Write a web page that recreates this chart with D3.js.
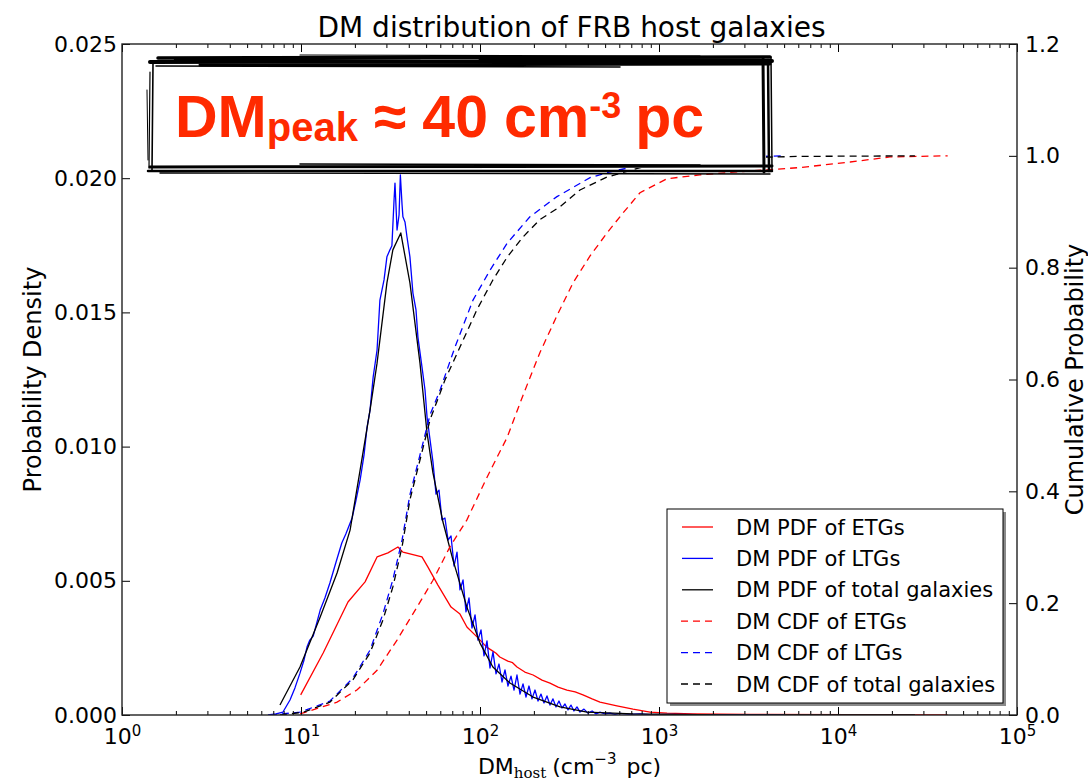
<!DOCTYPE html>
<html><head><meta charset="utf-8">
<script src="https://cdn.jsdelivr.net/npm/d3@7"></script>
<style>
body{margin:0;background:#fff}
svg{display:block}
text{font-family:"DejaVu Sans",sans-serif;fill:#000}
</style>
</head><body>
<svg id="c" width="1088" height="783"></svg>
<script>
// ---------------- DATA ----------------
// DM PDF of ETGs (red solid)
const etgPdfDM = [9.96,13.3,18.3,22.8,26.6,30.6,34.8,37.1,40.6,47.4,51.2,58.2,68.9,77.3,84.5,96.2,109,118,123,129,143,152,161,178,198,222,246,273,306,340,376,423,468,582,716,891,1109,1549,3223,11700,41000];
const etgPdf   = [0.00075,0.00231,0.00421,0.00496,0.00589,0.00604,0.00626,0.00607,0.0060,0.00589,0.00551,0.00484,0.00402,0.00376,0.00328,0.00291,0.00253,0.00238,0.00230,0.00216,0.00201,0.00195,0.00179,0.0016,0.00149,0.0013,0.00119,0.00104,0.00093,0.00086,0.00075,0.0006,0.00048,0.00034,0.00022,0.00011,0.00007,0.00004,0.00002,0.00001,0.000005];

// DM PDF of LTGs (blue solid, noisy)
const ltgPdfDM = [6.54,7.25,7.93,8.68,9.25,9.87,10.4,10.8,11.2,11.7,12.8,13.6,14.5,15.7,16.9,17.8,19.3,20.3,21.4,22.5,23.4,24.3,25.3,26.6,27.6,29.1,30.2,31.4,32.2,33.1,33.5,34.4,35.3,35.9,36.7,37.1,38.1,39.1,40.6,42.2,43.9,45.0,47.4,49.3,50.6,52.6,
  54.6,56.8,59.0,61.3,63.7,66.3,68.9,71.6,74.4,77.3,80.4,83.5,86.8,90.2,93.8,97.4,101.3,105.3,109.4,113.7,118.2,122.9,127.7,132.7,137.9,143.3,149.0,154.9,160.9,167.3,173.9,180.7,187.8,195.2,202.9,210.9,219.1,227.8,236.7,246.0,255.7,265.7,276.2,287.0,298.4,310.1,322.3,334.9,348.3,362.0,381,401,423,445,468,499,532,568,606,689,783,891,1151,1694,2492,3666,5060];
const ltgPdf   = [0,0.00004,0.00011,0.00056,0.00101,0.00156,0.00205,0.00253,0.00279,0.00294,0.00391,0.00436,0.00492,0.0057,0.00641,0.00674,0.00734,0.00801,0.00876,0.00969,0.01073,0.01136,0.01259,0.0136,0.01546,0.01621,0.01707,0.01733,0.01748,0.01919,0.01982,0.01807,0.01863,0.02012,0.019,0.01856,0.01837,0.01781,0.01707,0.01572,0.01509,0.01408,0.01297,0.01211,0.0111,0.01025,
  0.00943,0.00823,0.00838,0.00727,0.00734,0.00652,0.00667,0.00555,0.00607,0.00466,0.00503,0.00384,0.00436,0.00324,0.00373,0.00279,0.00317,0.00220,0.00276,0.00175,0.00235,0.00153,0.00190,0.00123,0.00168,0.00108,0.00145,0.00093,0.00149,0.00078,0.00116,0.00067,0.00108,0.00060,0.00093,0.00052,0.00078,0.00045,0.00071,0.00037,0.00060,0.00030,0.00052,0.00026,0.00041,0.00019,0.00037,0.00015,0.00030,0.00011,0.00022,0.00007,0.00015,0.00004,0.00011,0.00004,0.00007,0.00002,0.00006,0.00002,0.00004,0.00001,0.00002,0.00001,0.00001,0,0];

// DM PDF of total galaxies (black solid)
const totPdfDM = [7.63,9.87,12.8,15.9,18.8,21.4,24.3,26.6,30.2,32.6,36.1,40.6,46.2,50.6,54.6,62.1,70.6,84.5,100,118,147,198,280,396,716,2190,26900];
const totPdf   = [0.00037,0.00179,0.00365,0.00529,0.00689,0.00913,0.01136,0.01311,0.0161,0.01733,0.01796,0.0161,0.01311,0.01051,0.00902,0.00719,0.00578,0.00402,0.00268,0.00179,0.00119,0.00067,0.0003,0.00011,0.00004,0,0];

// DM CDF of ETGs (red dashed)
const etgCdfDM = [9.87,15.9,20.6,26.6,34.4,44.5,54.6,68.0,84.5,109,142,174,216,269,331,412,512,630,783,1109,1694,3223,6134,11700,19500,41000];
const etgCdf   = [0.002,0.023,0.045,0.080,0.134,0.193,0.241,0.301,0.349,0.424,0.497,0.572,0.648,0.714,0.773,0.821,0.862,0.898,0.934,0.959,0.966,0.973,0.979,0.989,0.998,1.0];

// DM CDF of LTGs (blue dashed)
const ltgCdfDM = [6.7,9.87,14.5,19.5,24.3,28.7,32.6,36.7,40.6,46.2,52.6,59.8,72.5,91.4,114,142,190,269,412,512,891,1694,5060];
const ltgCdf   = [0,0.005,0.025,0.066,0.116,0.181,0.242,0.313,0.394,0.465,0.537,0.581,0.658,0.742,0.796,0.844,0.891,0.927,0.961,0.970,0.987,0.996,1.0];

// DM CDF of total galaxies (black dashed)
const totCdfDM = [7.63,10.3,14.5,19.5,24.3,28.7,32.6,36.7,40.6,46.2,52.6,58.8,63.7,77.3,96.2,118,142,174,216,280,362,512,891,1694,6134,26900];
const totCdf   = [0,0.005,0.023,0.063,0.111,0.170,0.229,0.301,0.385,0.456,0.528,0.569,0.599,0.658,0.725,0.778,0.819,0.855,0.886,0.909,0.939,0.962,0.984,0.995,0.999,1.0];

// axes / ticks / labels
const xMajor = [1,10,100,1000,10000,100000];
const xTickExp = ["0","1","2","3","4","5"];
const yLeftTicks = [0,0.005,0.010,0.015,0.020,0.025];
const yRightTicks = [0,0.2,0.4,0.6,0.8,1.0,1.2];
const seriesNames = ["DM PDF of ETGs","DM PDF of LTGs","DM PDF of total galaxies","DM CDF of ETGs","DM CDF of LTGs","DM CDF of total galaxies"];
const titleText = "DM distribution of FRB host galaxies";
const yLeftLabel = "Probability Density";
const yRightLabel = "Cumulative Probability";

// ---------------- DRAWING ----------------
const svg = d3.select("#c");
const M = {l:122, r:1017, t:44, b:715};
const x  = d3.scaleLog().domain([1,1e5]).range([M.l,M.r]);
const yL = d3.scaleLinear().domain([0,0.025]).range([M.b,M.t]);
const yR = d3.scaleLinear().domain([0,1.2]).range([M.b,M.t]);

const xMinor = [];
for (let k=0;k<5;k++) for (let m=2;m<=9;m++) xMinor.push(m*Math.pow(10,k));

svg.append("defs").append("clipPath").attr("id","clip")
  .append("rect").attr("x",M.l).attr("y",M.t).attr("width",M.r-M.l).attr("height",M.b-M.t);

const plot = svg.append("g").attr("clip-path","url(#clip)");
const zip = (a,b)=>a.map((v,i)=>[v,b[i]]);
const lineL = d3.line().x(d=>x(d[0])).y(d=>yL(d[1]));
const lineR = d3.line().x(d=>x(d[0])).y(d=>yR(d[1]));

const pdfs = [
  {d:zip(etgPdfDM,etgPdf), c:"#ff0000"},
  {d:zip(ltgPdfDM,ltgPdf), c:"#0000ff"},
  {d:zip(totPdfDM,totPdf), c:"#000000"}
];
const cdfs = [
  {d:zip(etgCdfDM,etgCdf), c:"#ff0000"},
  {d:zip(ltgCdfDM,ltgCdf), c:"#0000ff"},
  {d:zip(totCdfDM,totCdf), c:"#000000"}
];
pdfs.forEach(s=>plot.append("path").attr("d",lineL(s.d)).attr("fill","none")
  .attr("stroke",s.c).attr("stroke-width",1.3).attr("stroke-linejoin","round"));
cdfs.forEach(s=>plot.append("path").attr("d",lineR(s.d)).attr("fill","none")
  .attr("stroke",s.c).attr("stroke-width",1.3).attr("stroke-dasharray","7,5"));

// axes
const tickStyle = g=>{ g.select(".domain").remove(); g.selectAll(".tick line").attr("stroke","#000").attr("stroke-width",1); };
const gxB = svg.append("g").attr("transform",`translate(0,${M.b})`)
  .call(d3.axisBottom(x).tickValues(xMajor).tickSizeInner(-8).tickSizeOuter(0).tickPadding(13).tickFormat(()=>""))
  .call(tickStyle);
gxB.selectAll(".tick text").each(function(d,i){
  const t = d3.select(this).attr("font-size",22).attr("fill","#000").attr("font-family","DejaVu Sans");
  t.append("tspan").text("10");
  t.append("tspan").attr("dy","-0.5em").attr("font-size",15).text(xTickExp[i]);
});
svg.append("g").attr("transform",`translate(0,${M.b})`)
  .call(d3.axisBottom(x).tickValues(xMinor).tickSize(-4).tickFormat(()=>"")).call(tickStyle);
svg.append("g").attr("transform",`translate(0,${M.t})`)
  .call(d3.axisTop(x).tickValues(xMajor).tickSize(-8).tickFormat(()=>"")).call(tickStyle);
svg.append("g").attr("transform",`translate(0,${M.t})`)
  .call(d3.axisTop(x).tickValues(xMinor).tickSize(-4).tickFormat(()=>"")).call(tickStyle);

const gyL = svg.append("g").attr("transform",`translate(${M.l},0)`)
  .call(d3.axisLeft(yL).tickValues(yLeftTicks).tickSizeInner(-8).tickSizeOuter(0).tickPadding(5).tickFormat(d3.format(".3f")))
  .call(tickStyle);
gyL.selectAll(".tick text").attr("font-size",22).attr("fill","#000").attr("font-family","DejaVu Sans");
const gyR = svg.append("g").attr("transform",`translate(${M.r},0)`)
  .call(d3.axisRight(yR).tickValues(yRightTicks).tickSizeInner(-8).tickSizeOuter(0).tickPadding(8).tickFormat(d3.format(".1f")))
  .call(tickStyle);
gyR.selectAll(".tick text").attr("font-size",22).attr("fill","#000").attr("font-family","DejaVu Sans");

// frame
svg.append("rect").attr("x",M.l).attr("y",M.t).attr("width",M.r-M.l).attr("height",M.b-M.t)
  .attr("fill","none").attr("stroke","#222").attr("stroke-width",1.4);

// title & labels
svg.append("text").attr("x",(M.l+M.r)/2+2).attr("y",37).attr("text-anchor","middle")
  .attr("font-size",28).text(titleText);
svg.append("text").attr("transform",`translate(41,${(M.t+M.b)/2}) rotate(-90)`)
  .attr("text-anchor","middle").attr("font-size",24).text(yLeftLabel);
svg.append("text").attr("transform",`translate(1083,${(M.t+M.b)/2}) rotate(-90)`)
  .attr("text-anchor","middle").attr("font-size",24).text(yRightLabel);
const xl = svg.append("text").attr("x",(M.l+M.r)/2).attr("y",774).attr("text-anchor","middle").attr("font-size",22);
xl.append("tspan").text("DM");
xl.append("tspan").attr("font-family","DejaVu Serif").attr("font-size",15).attr("dy",4).text("host");
xl.append("tspan").attr("dy",-4).attr("dx",6).text("(cm");
xl.append("tspan").attr("font-size",15).attr("dy",-10).text("\u22123");
xl.append("tspan").attr("dy",10).attr("dx",10).text("pc)");

// legend
const lg = svg.append("g");
const LX=667, LY=509, LW=336, LH=194;
lg.append("rect").attr("x",LX+3).attr("y",LY+3).attr("width",LW).attr("height",LH).attr("fill","#8a8a8a");
lg.append("rect").attr("x",LX).attr("y",LY).attr("width",LW).attr("height",LH).attr("fill","#fff").attr("stroke","#000").attr("stroke-width",1);
const legItems = [
  {c:"#ff0000",dash:null},{c:"#0000ff",dash:null},{c:"#000000",dash:null},
  {c:"#ff0000",dash:"7,5"},{c:"#0000ff",dash:"7,5"},{c:"#000000",dash:"7,5"}
];
legItems.forEach((it,i)=>{
  const yy = 527 + i*31.4;
  const ln = lg.append("line").attr("x1",682).attr("x2",713).attr("y1",yy).attr("y2",yy)
    .attr("stroke",it.c).attr("stroke-width",1.3);
  if (it.dash) ln.attr("stroke-dasharray","7,5").attr("x1",681);
  lg.append("text").attr("x",736).attr("y",yy).attr("dy","0.36em").attr("font-size",21).text(seriesNames[i]);
});

// hand-drawn annotation box
const ann = svg.append("g");
ann.append("rect").attr("x",150).attr("y",60).attr("width",616).attr("height",108).attr("fill","#fff");
const strokes = [
  // top
  [158,58,770,57,3.5],[150,62,772,61,4],[200,65,770,64,3],[156,66,620,67,1.5],[300,55,700,56,1.2],[175,60,420,58,2.5],[480,59,760,60,3],
  // right
  [763,58,764,172,3],[768,60,769,171,2.5],[771,57,772,170,1.5],
  // left
  [150,72,149,168,1.2],[153,64,152,170,1.6],[147,90,148,160,1],
  // bottom
  [150,167,772,166,3],[148,171,772,171,2.5],[160,173,770,174,1.4],[300,164,700,165,1.5]
];
strokes.forEach(s=>ann.append("line").attr("x1",s[0]).attr("y1",s[1]).attr("x2",s[2]).attr("y2",s[3])
  .attr("stroke","#000").attr("stroke-width",s[4]).attr("stroke-linecap","round"));
const at = ann.append("text").attr("x",175).attr("y",137)
  .style("font-family","'Liberation Sans',Arial,sans-serif").style("font-weight","bold")
  .style("fill","#ff2a00").attr("font-size",59);
at.append("tspan").text("DM");
at.append("tspan").attr("font-size",40).attr("dy",4).text("peak");
at.append("tspan").attr("dy",-4).attr("dx",16).text("\u2248");
at.append("tspan").attr("dx",16).text("40");
at.append("tspan").attr("dx",16).text("cm");
at.append("tspan").attr("font-size",36).attr("dy",-19).text("-3");
at.append("tspan").attr("dy",19).attr("dx",14).text("pc");
</script>
</body></html>
